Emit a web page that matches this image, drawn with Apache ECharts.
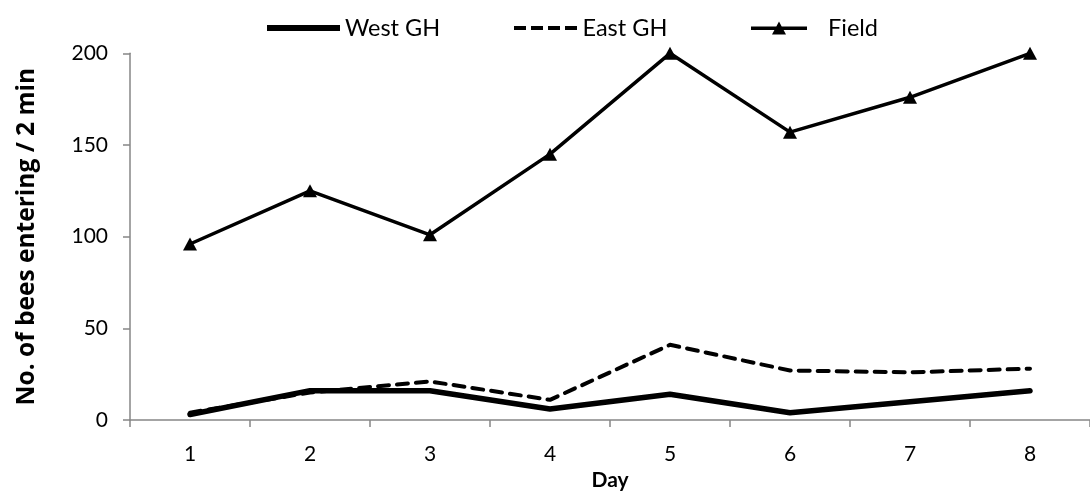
<!DOCTYPE html>
<html>
<head>
<meta charset="utf-8">
<script src="https://cdn.jsdelivr.net/npm/echarts@6/dist/echarts.min.js"></script>
<style>
html,body{margin:0;padding:0;background:#fff;}
#chart{width:1090px;height:496px;}
</style>
</head>
<body>
<div id="chart"></div>
<script>
const days = ['1','2','3','4','5','6','7','8'];
const westGH = [3, 16, 16, 6, 14, 4, 10, 16];
const eastGH = [4, 15, 21, 11, 41, 27, 26, 28];
const field = [96, 125, 101, 145, 200, 157, 176, 200];
const yTicks = {min: 0, max: 200, interval: 50};

const FONT = 'Lato';
const legendText = {fontFamily: FONT, fontSize: 23.5, color: '#000'};
const dashIcon = 'path://M0,0h12v4h-12z M17,0h12v4h-12z M34,0h12v4h-12z M51,0h12v4h-12z';
const fieldIcon = 'path://M0,5H56V8.5H0Z M28,0L35,13H21Z';
const chart = echarts.init(document.getElementById('chart'), null, {renderer: 'canvas'});
chart.setOption({
  animation: false,
  backgroundColor: '#fff',
  textStyle: {fontFamily: FONT, color: '#000'},
  legend: [
    {left: 262, top: 11, itemWidth: 73, itemHeight: 6, textStyle: legendText,
     data: [{name: 'West GH', icon: 'rect'}]},
    {left: 509, top: 11, itemWidth: 64, itemHeight: 4, textStyle: legendText,
     data: [{name: 'East GH', icon: dashIcon}]},
    {left: 746, top: 11, itemWidth: 56, itemHeight: 13,
     textStyle: Object.assign({}, legendText, {padding: [0, 0, 0, 16]}),
     data: [{name: 'Field', icon: fieldIcon}]}
  ],
  grid: {left: 130, right: 0, top: 53.3, bottom: 76, containLabel: false},
  xAxis: {
    type: 'category', data: days, boundaryGap: true,
    name: 'Day', nameLocation: 'middle', nameGap: 46,
    nameTextStyle: {fontFamily: FONT, fontSize: 21, fontWeight: 'bold', color: '#000'},
    axisLine: {lineStyle: {color: '#868686', width: 1.5}},
    axisTick: {show: true, length: 7, lineStyle: {color: '#868686', width: 1.5}},
    axisLabel: {fontFamily: FONT, fontSize: 21, color: '#000', margin: 24},
    splitLine: {show: false}
  },
  yAxis: {
    type: 'value', min: yTicks.min, max: yTicks.max, interval: yTicks.interval,
    name: 'No. of bees entering / 2 min', nameLocation: 'middle', nameGap: 90, nameRotate: 90,
    nameTextStyle: {fontFamily: 'Open Sans', fontSize: 24.5, fontWeight: 'bold', color: '#000'},
    axisLine: {show: true, lineStyle: {color: '#868686', width: 1.5}},
    axisTick: {show: true, length: 7, lineStyle: {color: '#868686', width: 1.5}},
    axisLabel: {fontFamily: FONT, fontSize: 21, color: '#000', margin: 22},
    splitLine: {show: false}
  },
  series: [
    {
      name: 'West GH', type: 'line', data: westGH,
      symbol: 'none', showSymbol: false,
      lineStyle: {color: '#000', width: 5.5, cap: 'round', join: 'round'},
      itemStyle: {color: '#000'}
    },
    {
      name: 'East GH', type: 'line', data: eastGH,
      symbol: 'none', showSymbol: false,
      lineStyle: {color: '#000', width: 4, type: [11, 8], cap: 'round', join: 'round'},
      itemStyle: {color: '#000'}
    },
    {
      name: 'Field', type: 'line', data: field,
      symbol: 'triangle', symbolSize: [14, 13], showSymbol: true,
      lineStyle: {color: '#000', width: 3.5, join: 'round'},
      itemStyle: {color: '#000'}
    }
  ]
});
</script>
</body>
</html>
